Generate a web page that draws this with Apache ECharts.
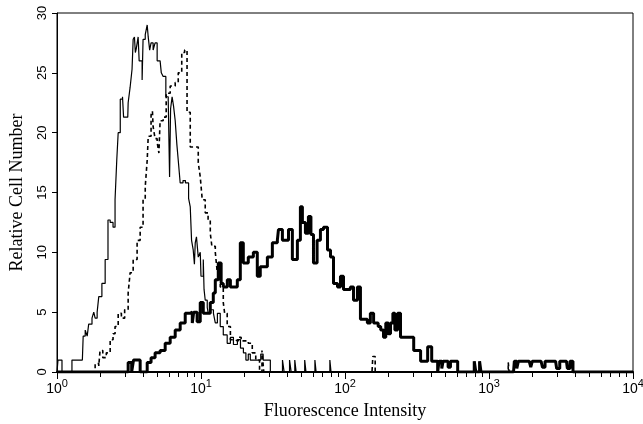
<!DOCTYPE html>
<html>
<head>
<meta charset="utf-8">
<script src="https://cdn.jsdelivr.net/npm/echarts@6/dist/echarts.min.js"></script>
<style>
  html, body { margin: 0; padding: 0; background: #fff; }
  #main { width: 643px; height: 424px; }
</style>
</head>
<body>
<div id="main"></div>
<script>
// histogram channels: [intensity, cell number]
var thinData = [
  [1.0,0],[1.016,1],[1.083,0],[1.27,1],[1.5,1],[1.52,3],[1.57,3.5],[1.62,3],[1.66,4],[1.75,4.5],[1.8,5],[1.84,4.5],
  [1.9,5],[1.95,6.3],[2.05,7.4],[2.16,9.4],[2.26,12.7],[2.34,12.5],[2.45,12.1],[2.53,14.4],[2.6,17.7],[2.66,20],
  [2.75,22.8],[2.85,23],[2.9,21.3],[3.1,21.3],[3.12,22.5],[3.22,23.8],[3.32,25.3],[3.38,27.8],[3.45,28],[3.5,26.7],
  [3.55,27],[3.66,28],[3.72,26],[3.9,24.4],[3.96,27.8],[4.1,28.2],[4.23,29],[4.3,28],[4.4,26.9],[4.5,27.5],
  [4.65,26.9],[4.8,27.5],[4.96,26],[5.2,26.1],[5.3,25],[5.46,24.7],[5.7,23],[5.92,22.8],[6.05,16.3],[6.15,22],
  [6.3,23],[6.45,22.2],[6.62,21],[6.8,19],[6.95,17.7],[7.17,15.8],[7.5,16],[7.8,15.8],[8.02,15.8],[8.2,14.5],
  [8.42,13.8],[8.6,11],[8.83,10.2],[9.0,9],[9.12,10.8],[9.3,11.3],[9.57,9.6],[9.88,10],[10.0,8],[10.37,9.4],
  [10.5,6.9],[10.7,6],[11.05,5.4],[11.23,4.9],[11.6,5.2],[12.2,4.9],[12.57,4.1],[13.0,4.9],[13.6,3.8],[14.28,3.1],
  [15.2,2.4],[16.0,2.9],[16.8,2.3],[17.9,2.7],[18.8,2],[19.7,1.6],[20.5,1],[21.3,1.5],[22.0,1],[26,1.5],[27,1],
  [30.3,0],[36.8,1],[37.8,0],[41.2,1],[42.3,0],[44.8,1],[45.8,0],[52.5,1],[53.6,0],[61.8,1],[63,0],[78.5,1],[80,0],
  [10000,0]
];
var dashData = [
  [1.0,0],[1.84,0.7],[1.95,0.5],[1.99,1.8],[2.08,1.2],[2.2,1.6],[2.34,2.7],[2.45,3.2],[2.53,3.8],[2.66,4.9],[2.8,4.5],
  [2.95,5.2],[3.12,6.6],[3.22,8.3],[3.38,9.4],[3.6,11],[3.78,12.1],[3.96,14.4],[4.1,15.5],[4.23,17.7],[4.3,19.7],
  [4.5,21.5],[4.6,21.8],[4.65,20.5],[4.8,19.5],[4.96,19.2],[5.1,18.3],[5.2,21],[5.46,21.3],[5.73,23.3],[6.11,23.9],
  [6.62,24.2],[6.95,25],[7.35,26.7],[7.7,26.9],[8.0,21.7],[8.42,18.8],[9.12,18.8],[9.57,17.5],[9.88,16.3],[10.2,14.4],
  [10.7,13.3],[11.2,12.7],[11.6,11.6],[11.9,10.5],[12.57,10],[12.97,8.3],[13.6,7.1],[14.28,5.8],[14.6,4.9],[15.2,3.8],
  [16.0,2.7],[17.0,2.6],[18.16,2.9],[19.0,2.6],[21.3,2.4],[22.7,1.6],[24.0,1],[25.5,0],[26.5,1.8],[27.3,0],
  [154,0],[156,1.3],[162,0],[1360,0.8],[1380,0],[10000,0]
];
var thickData = [
  [1.0,0],[3.12,0.8],[3.3,0],[3.4,1],[3.78,0],[4.23,0.8],[4.5,1.2],[4.8,1.6],[5.2,1.8],[5.64,2.4],[6.11,2.9],
  [6.62,3.5],[7.17,4.1],[7.77,4.9],[8.4,5],[8.7,4.1],[8.9,5],[9.4,4.2],[9.88,5.8],[10.37,4.9],[11.05,4.9],[11.6,5.8],
  [12.17,6.6],[12.57,7.7],[13.18,9.1],[13.8,7.4],[14.28,7.1],[15.23,7.7],[16,7.1],[17.87,7.7],[18.75,10.8],
  [19.67,9.1],[21.3,9.6],[23.1,10],[24.6,8],[25.8,8.8],[27.1,8.8],[28.9,9.6],[31.3,10.8],[33.9,11],[34.5,11.9],
  [36.75,11],[40.5,11.9],[43.1,9.4],[46.7,11],[49,13.8],[50.6,12.5],[53.1,11.6],[55.7,13],[58,11.5],[60.4,9.1],
  [64,11],[67.5,11.9],[70.9,12.1],[75.6,10.2],[79.3,9.6],[83.2,7.4],[88.7,7.1],[93,8],[97.6,6.9],[109,7.1],
  [114.6,6],[122,7.1],[128,4.4],[143,4.1],[150,4.9],[158,4.1],[170,3.8],[177,3.5],[185,2.9],[192,4.1],[200,3.2],
  [207,4.1],[215,4.9],[222,3.5],[232,4.9],[243,2.9],[285,2.9],[300,1.8],[335,0.9],[375,2.1],[400,0.9],[440,0],
  [450,0.9],[470,0.3],[480,0.9],[520,0.4],[540,0.9],[606,0],[790,0.9],[810,0],[860,0.9],[880,0],[1480,0],
  [1500,0.9],[1560,0.3],[1600,0.9],[1900,0.9],[1950,0.4],[2000,0.9],[2300,0.9],[2350,0.4],[2450,0.9],[2900,0.9],
  [2950,0.3],[3100,0.9],[3450,0.9],[3500,0.3],[3650,0.9],[3830,0],[10000,0]
];
var xDecades = [0, 1, 2, 3];
var xMinorMant = [2, 3, 4, 5, 6, 7, 8, 9];

// minor ticks 2..9 of each decade, in log10 units, drawn as split lines of a thin strip grid under the axis
var minorTicks = [];
for (var d = 0; d < xDecades.length; d++) {
  for (var m = 0; m < xMinorMant.length; m++) {
    minorTicks.push(xDecades[d] + Math.log(xMinorMant[m]) / Math.LN10);
  }
}

var myChart = echarts.init(document.getElementById('main'));
var option = {
  backgroundColor: '#fff',
  animation: false,
  grid: [
    { left: 57, right: 10, top: 13, bottom: 52, outerBoundsMode: 'none', show: true, borderColor: '#000', borderWidth: 1 },
    { left: 57, right: 10, top: 372, height: 5, outerBoundsMode: 'none', show: false }
  ],
  xAxis: [
    {
      type: 'log', logBase: 10, min: 1, max: 10000,
      name: 'Fluorescence Intensity', nameLocation: 'middle', nameGap: 30,
      nameTextStyle: { fontFamily: 'Liberation Serif', fontSize: 18, color: '#000' },
      axisLine: { lineStyle: { color: '#000', width: 2 } },
      axisTick: { length: 7, lineStyle: { color: '#000', width: 1 } },
      splitLine: { show: false },
      axisLabel: {
        margin: 6,
        formatter: function (v) {
          return '{b|10}{s|' + Math.round(Math.log(v) / Math.LN10) + '}';
        },
        rich: {
          b: { fontFamily: 'Liberation Sans', fontSize: 14, color: '#000', verticalAlign: 'bottom' },
          s: { fontFamily: 'Liberation Sans', fontSize: 11, color: '#000', verticalAlign: 'bottom', padding: [0, 0, 7, 0] }
        }
      }
    },
    {
      gridIndex: 1, type: 'value', min: 0, max: 4,
      axisLine: { show: false },
      axisLabel: { show: false, customValues: minorTicks },
      axisTick: { show: false, customValues: minorTicks },
      splitLine: { show: true, lineStyle: { color: '#000', width: 1 } }
    }
  ],
  yAxis: [
    {
      type: 'value', min: 0, max: 30, interval: 5,
      name: 'Relative Cell Number', nameLocation: 'middle', nameGap: 31,
      nameTextStyle: { fontFamily: 'Liberation Serif', fontSize: 18, color: '#000' },
      axisLine: { show: true, lineStyle: { color: '#000', width: 1 } },
      axisTick: { show: true, length: 5, lineStyle: { color: '#000' } },
      splitLine: { show: false },
      axisLabel: { rotate: 90, margin: 8, fontFamily: 'Liberation Sans', fontSize: 13, color: '#000' }
    },
    { gridIndex: 1, type: 'value', min: 0, max: 1, show: false, splitLine: { show: false } }
  ],
  series: [
    {
      name: 'thin', type: 'line', step: 'end', data: thinData, symbol: 'none',
      lineStyle: { color: '#000', width: 1.2 }, z: 3
    },
    {
      name: 'dash', type: 'line', step: 'end', data: dashData, symbol: 'none',
      lineStyle: { color: '#000', width: 1.6, type: [4, 3] }, z: 2
    },
    {
      name: 'thick', type: 'line', step: 'end', data: thickData, symbol: 'none',
      lineStyle: { color: '#000', width: 3 }, z: 4
    }
  ]
};
myChart.setOption(option);
</script>
</body>
</html>
